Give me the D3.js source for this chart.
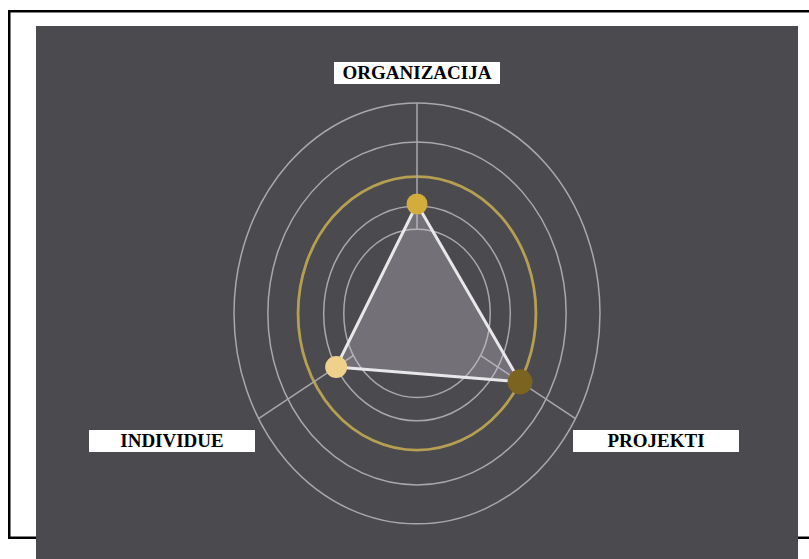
<!DOCTYPE html>
<html>
<head>
<meta charset="utf-8">
<script src="https://cdn.jsdelivr.net/npm/d3@7"></script>
<style>
  html, body { margin: 0; padding: 0; background: #ffffff; }
  svg { display: block; }
</style>
</head>
<body>
<svg id="chart" width="809" height="559"></svg>
<script>
// ---- data ----
const categories = ["ORGANIZACIJA", "PROJEKTI", "INDIVIDUE"];
const values = [52, 65, 51];
const ringLevels = [40, 51, 65, 81.5, 100];
const highlightLevel = 65;

// ---- styles ----
const dotColors = ["#d2ac3d", "#7b6420", "#f0d18c"];
const dotRadii = [10.5, 12.5, 11];

const W = 809, H = 559;
const cx = 417, cy = 313.4, k = 1.15;   // vertical stretch of the radar
const svg = d3.select("#chart");

// frame and panel
svg.append("rect").attr("x", 9.25).attr("y", 11.25).attr("width", 820).attr("height", 526.5)
  .attr("fill", "none").attr("stroke", "#000").attr("stroke-width", 2.5);
svg.append("rect").attr("x", 36).attr("y", 26).attr("width", 762).attr("height", H - 26)
  .attr("fill", "#4b4a4f");

const r = d3.scaleLinear().domain([0, 100]).range([0, 183]);
const angle = d3.scaleBand().domain(categories).range([0, 2 * Math.PI]).align(0).paddingInner(0).paddingOuter(0);
const ang = c => angle(c);
const px = (c, v) => cx + r(v) * Math.sin(ang(c));
const py = (c, v) => cy - r(v) * Math.cos(ang(c)) * k;

const g = svg.append("g");

// rings
g.selectAll("ellipse.ring").data(ringLevels).join("ellipse")
  .attr("class", "ring")
  .attr("cx", cx).attr("cy", cy)
  .attr("rx", d => r(d)).attr("ry", d => r(d) * k)
  .attr("fill", "none")
  .attr("stroke", d => d === highlightLevel ? "#b79f52" : "#a9a8ad")
  .attr("stroke-width", d => d === highlightLevel ? 2.8 : 1.5);

// axes (from innermost ring to outer ring)
const rMin = d3.min(ringLevels), rMax = d3.max(ringLevels);
g.selectAll("line.axis").data(categories).join("line")
  .attr("class", "axis")
  .attr("x1", c => px(c, rMin)).attr("y1", c => py(c, rMin))
  .attr("x2", c => px(c, rMax)).attr("y2", c => py(c, rMax))
  .attr("stroke", "#a9a8ad").attr("stroke-width", 1.5);

// polygon
const pts = categories.map((c, i) => [px(c, values[i]), py(c, values[i])]);
g.append("path")
  .attr("d", d3.line().curve(d3.curveLinearClosed)(pts))
  .attr("fill", "#cfced3").attr("fill-opacity", 0.3)
  .attr("stroke", "#e8e8ea").attr("stroke-width", 3).attr("stroke-linejoin", "round");

// dots
g.selectAll("circle.dot").data(categories).join("circle")
  .attr("class", "dot")
  .attr("cx", (c, i) => px(c, values[i])).attr("cy", (c, i) => py(c, values[i]))
  .attr("r", (c, i) => dotRadii[i])
  .attr("fill", (c, i) => dotColors[i]);

// label boxes
const boxes = [
  {t: categories[0], x: 417, y: 73},
  {t: categories[1], x: 656, y: 441},
  {t: categories[2], x: 172, y: 441}
];
const lb = svg.selectAll("g.lab").data(boxes).join("g").attr("class", "lab");
lb.append("rect")
  .attr("x", d => d.x - 83).attr("y", d => d.y - 11)
  .attr("width", 166).attr("height", 22).attr("fill", "#ffffff");
lb.append("text")
  .attr("x", d => d.x).attr("y", d => d.y + 5.5)
  .attr("text-anchor", "middle")
  .attr("font-family", "Liberation Serif, Times New Roman, serif")
  .attr("font-weight", "bold").attr("font-size", 19)
  .attr("fill", "#000").text(d => d.t);
</script>
</body>
</html>
